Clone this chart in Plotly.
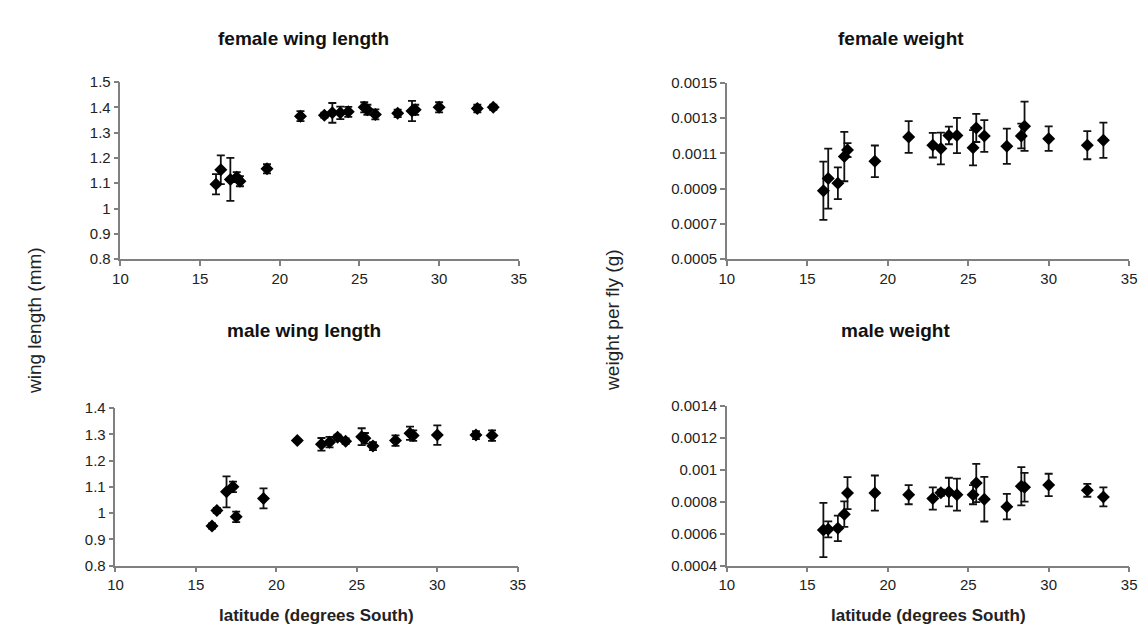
import plotly.graph_objects as go

# ---------------- data ----------------
latitude = [16.0, 16.3, 16.9, 17.3, 17.5, 19.2, 21.3, 22.8, 23.3, 23.8,
            24.3, 25.3, 25.5, 26.0, 27.4, 28.3, 28.5, 30.0, 32.4, 33.4]

female_wing = [1.096, 1.153, 1.115, 1.124, 1.108, 1.157, 1.365, 1.369, 1.378, 1.378,
               1.382, 1.400, 1.390, 1.372, 1.376, 1.385, 1.390, 1.400, 1.395, 1.400]
female_wing_err = [0.040, 0.057, 0.085, 0.020, 0.020, 0.018, 0.020, 0.010, 0.039, 0.025,
                   0.020, 0.020, 0.020, 0.020, 0.015, 0.040, 0.020, 0.020, 0.015, 0.010]

male_wing = [0.951, 1.010, 1.081, 1.100, 0.986, 1.056, 1.276, 1.262, 1.270, 1.289,
             1.274, 1.291, 1.285, 1.255, 1.276, 1.304, 1.295, 1.297, 1.297, 1.295]
male_wing_err = [0.010, 0.010, 0.059, 0.020, 0.020, 0.038, 0.006, 0.024, 0.020, 0.010,
                 0.010, 0.032, 0.020, 0.015, 0.020, 0.025, 0.020, 0.037, 0.015, 0.020]

female_weight = [0.000888, 0.000957, 0.000931, 0.001082, 0.001119, 0.001055, 0.001193,
                 0.001147, 0.001128, 0.001202, 0.001202, 0.001132, 0.001245, 0.001199,
                 0.001141, 0.001199, 0.001254, 0.001184, 0.001147, 0.001175]
female_weight_err = [0.000165, 0.000170, 0.000090, 0.000140, 0.000040, 0.000090, 0.000090,
                     0.000070, 0.000090, 0.000050, 0.000100, 0.000100, 0.000080, 0.000090,
                     0.000100, 0.000070, 0.000140, 0.000070, 0.000080, 0.000100]

male_weight = [0.000624, 0.000628, 0.000634, 0.000723, 0.000855, 0.000855, 0.000845,
               0.000821, 0.000857, 0.000861, 0.000845, 0.000845, 0.000918, 0.000817,
               0.000770, 0.000898, 0.000892, 0.000906, 0.000872, 0.000831]
male_weight_err = [0.000170, 0.000050, 0.000080, 0.000080, 0.000100, 0.000110, 0.000060,
                   0.000070, 0.000020, 0.000090, 0.000100, 0.000060, 0.000120, 0.000140,
                   0.000080, 0.000120, 0.000090, 0.000070, 0.000040, 0.000060]

x_ticks = [10, 15, 20, 25, 30, 35]
fwing_ticks = [0.8, 0.9, 1.0, 1.1, 1.2, 1.3, 1.4, 1.5]
fwing_labels = ["0.8", "0.9", "1", "1.1", "1.2", "1.3", "1.4", "1.5"]
mwing_ticks = [0.8, 0.9, 1.0, 1.1, 1.2, 1.3, 1.4]
mwing_labels = ["0.8", "0.9", "1", "1.1", "1.2", "1.3", "1.4"]
fweight_ticks = [0.0005, 0.0007, 0.0009, 0.0011, 0.0013, 0.0015]
fweight_labels = ["0.0005", "0.0007", "0.0009", "0.0011", "0.0013", "0.0015"]
mweight_ticks = [0.0004, 0.0006, 0.0008, 0.0010, 0.0012, 0.0014]
mweight_labels = ["0.0004", "0.0006", "0.0008", "0.001", "0.0012", "0.0014"]

panel_titles = ["female wing length", "female weight", "male wing length", "male weight"]
y_titles = ["wing length (mm)", "weight per fly (g)"]
x_title = "latitude (degrees South)"

# ---------------- figure ----------------
W, H = 1147, 635
fig = go.Figure()

panels = [
    (female_wing, female_wing_err, "x", "y"),
    (female_weight, female_weight_err, "x2", "y2"),
    (male_wing, male_wing_err, "x3", "y3"),
    (male_weight, male_weight_err, "x4", "y4"),
]
for vals, errs, xa, ya in panels:
    fig.add_trace(go.Scatter(
        x=latitude, y=vals, mode="markers", xaxis=xa, yaxis=ya,
        marker=dict(symbol="diamond", size=10, color="black"),
        error_y=dict(type="data", array=errs, visible=True, color="#111111",
                     thickness=1.8, width=4),
        showlegend=False,
    ))

axis_common = dict(showline=True, linecolor="#808080", linewidth=1.5,
                   ticks="outside", ticklen=5, tickwidth=1.5, tickcolor="#808080",
                   showgrid=False, zeroline=False,
                   tickfont=dict(family="Liberation Sans, Arial, sans-serif", size=15, color="#222222"))

def px_x(p):
    return p / W

def px_y(p):
    return 1 - p / H

doms = {
    "1": ([px_x(114), px_x(518)], [px_y(257), px_y(75)]),
    "2": ([px_x(729), px_x(1137)], [px_y(257), px_y(76)]),
    "3": ([px_x(109), px_x(517)], [px_y(572), px_y(410)]),
    "4": ([px_x(729), px_x(1137)], [px_y(572), px_y(408)]),
}
yspecs = {
    "1": ([0.8, 1.5], fwing_ticks, fwing_labels),
    "2": ([0.0005, 0.0015], fweight_ticks, fweight_labels),
    "3": ([0.8, 1.4], mwing_ticks, mwing_labels),
    "4": ([0.0004, 0.0014], mweight_ticks, mweight_labels),
}
layout_axes = {}
for k in ["1", "2", "3", "4"]:
    xd, yd = doms[k]
    suffix = "" if k == "1" else k
    yr, yt, yl = yspecs[k]
    layout_axes["xaxis" + suffix] = dict(axis_common, domain=xd, range=[10, 35],
                                         tickvals=x_ticks, ticktext=[str(t) for t in x_ticks],
                                         anchor="y" + suffix)
    layout_axes["yaxis" + suffix] = dict(axis_common, domain=yd, range=yr,
                                         tickvals=yt, ticktext=yl,
                                         anchor="x" + suffix)

fig.update_layout(**layout_axes)

bold_font = dict(family="Liberation Sans, Arial, sans-serif", size=19, color="#111111")
ann = []
title_pos = [(300, 30), (906, 30), (300, 330), (900, 330)]
for t, (ax_, ay_) in zip(panel_titles, title_pos):
    ann.append(dict(text="<b>" + t + "</b>", x=px_x(ax_), y=px_y(ay_), xref="paper", yref="paper",
                    showarrow=False, xanchor="center", yanchor="middle", font=bold_font))
ytitle_font = dict(family="Liberation Sans, Arial, sans-serif", size=19, color="#222222")
ann.append(dict(text=y_titles[0], x=px_x(27), y=px_y(320), xref="paper", yref="paper",
                showarrow=False, textangle=-90, xanchor="center", yanchor="middle", font=ytitle_font))
ann.append(dict(text=y_titles[1], x=px_x(613), y=px_y(320), xref="paper", yref="paper",
                showarrow=False, textangle=-90, xanchor="center", yanchor="middle", font=ytitle_font))
xt_font = dict(family="Liberation Sans, Arial, sans-serif", size=17, color="#222222")
for cx in (313, 934):
    ann.append(dict(text="<b>" + x_title + "</b>", x=px_x(cx), y=px_y(623), xref="paper", yref="paper",
                    showarrow=False, xanchor="center", yanchor="middle", font=xt_font))

fig.update_layout(
    width=W, height=H, margin=dict(l=0, r=0, t=0, b=0),
    paper_bgcolor="white", plot_bgcolor="white",
    annotations=ann, showlegend=False,
)

fig.write_html("out.html")
